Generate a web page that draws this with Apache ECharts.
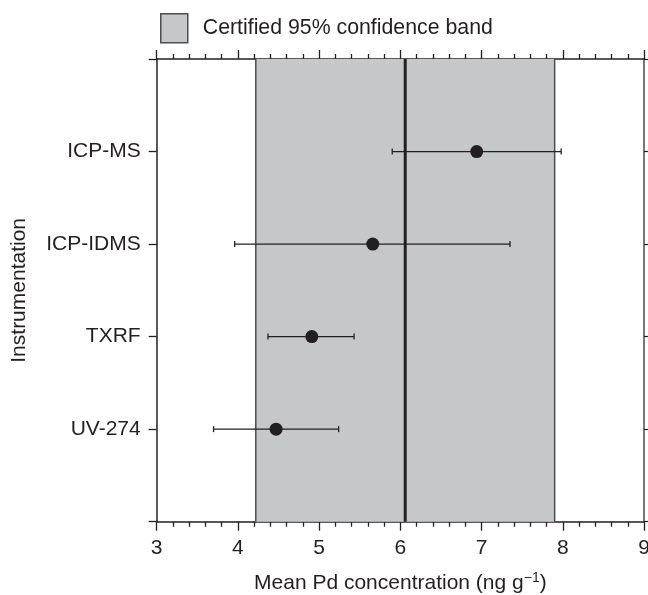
<!DOCTYPE html>
<html>
<head>
<meta charset="utf-8">
<script src="https://cdn.jsdelivr.net/npm/echarts@6/dist/echarts.min.js"></script>
<style>html,body{margin:0;padding:0;background:#fff}#c{width:648px;height:595px}</style>
</head>
<body>
<div id="c"></div>
<script>
// ---- data ----
const methods = ['UV-274', 'TXRF', 'ICP-IDMS', 'ICP-MS'];
const means = [4.47, 4.91, 5.66, 6.94];
const lowerErr = [3.70, 4.37, 3.96, 5.90];
const upperErr = [5.24, 5.43, 7.35, 7.98];
const bandLow = 4.22;
const bandHigh = 7.90;
const certifiedMean = 6.06;
const xTicks = [3, 4, 5, 6, 7, 8, 9];
const bandName = 'Certified 95% confidence band';

const dark = '#231f20';
const gray = '#c6c7c9';
const edge = '#4d4d4f';
const font = 'Liberation Sans';

const chart = echarts.init(document.getElementById('c'), null, {renderer: 'canvas'});

const pointData = methods.map((m, i) => [means[i], i + 1]);
const errData = methods.map((m, i) => [lowerErr[i], upperErr[i], i + 1]);

function xAxisDef(pos, showLabel) {
  return {
    type: 'value', position: pos,
    min: xTicks[0], max: xTicks[xTicks.length - 1], interval: 1,
    axisLine: {show: true, onZero: false, lineStyle: {color: dark, width: 1.5}},
    axisTick: {show: true, inside: false, length: 9, lineStyle: {color: dark, width: 1.3}},
    minorTick: {show: true, splitNumber: 5, length: 5, lineStyle: {color: dark, width: 1.3}},
    splitLine: {show: false},
    axisLabel: {show: showLabel, color: dark, fontSize: 21, fontFamily: font, margin: 16}
  };
}

const bottomAxis = xAxisDef('bottom', true);
bottomAxis.name = '{a|Mean Pd concentration (ng g}{s|\u22121}{a|)}';
bottomAxis.nameLocation = 'middle';
bottomAxis.nameGap = 49;
bottomAxis.nameTextStyle = {
  color: dark, fontFamily: font,
  rich: {
    a: {fontSize: 21, color: dark, fontFamily: font},
    s: {fontSize: 14, color: dark, fontFamily: font, verticalAlign: 'top', padding: [0, 0, 12, 0]}
  }
};

const option = {
  animation: false,
  backgroundColor: '#fff',
  textStyle: {fontFamily: font},
  legend: {
    show: true,
    left: 155,
    top: 8,
    itemWidth: 27,
    itemHeight: 29,
    icon: 'rect',
    selectedMode: false,
    textStyle: {fontFamily: font, fontSize: 21.3, color: dark, padding: [0, 0, 0, 10]},
    data: [{name: bandName, icon: 'rect', itemStyle: {color: gray, borderColor: edge, borderWidth: 1.5}}]
  },
  grid: {left: 156.7, right: 4, top: 59, bottom: 73.3, containLabel: false, outerBoundsMode: 'none'},
  xAxis: [bottomAxis, xAxisDef('top', false)],
  yAxis: [
    {
      type: 'value', position: 'left',
      min: 0, max: methods.length + 1, interval: 1,
      axisLine: {show: true, onZero: false, lineStyle: {color: dark, width: 1.5}},
      axisTick: {show: true, inside: false, length: 8, lineStyle: {color: dark, width: 1.3}},
      splitLine: {show: false},
      axisLabel: {
        show: true, color: dark, fontSize: 21, fontFamily: font, margin: 16,
        formatter: v => (v >= 1 && v <= methods.length) ? methods[v - 1] : ''
      },
      name: 'Instrumentation', nameLocation: 'middle', nameGap: 127,
      nameTextStyle: {color: dark, fontSize: 21, fontFamily: font}
    },
    {
      type: 'value', position: 'right',
      min: 0, max: methods.length + 1, interval: 1,
      axisLine: {show: true, onZero: false, lineStyle: {color: edge, width: 1.5}},
      axisTick: {show: true, inside: false, length: 5, lineStyle: {color: dark, width: 1.2}},
      splitLine: {show: false},
      axisLabel: {show: false}
    }
  ],
  series: [
    {
      name: bandName,
      type: 'custom',
      xAxisIndex: 0, yAxisIndex: 0,
      itemStyle: {color: gray, borderColor: edge, borderWidth: 1.5},
      data: [[bandLow, bandHigh]],
      z: 1,
      renderItem: function (params, api) {
        const p0 = api.coord([api.value(0), methods.length + 1]);
        const p1 = api.coord([api.value(1), 0]);
        return {
          type: 'group',
          children: [
            {type: 'rect', shape: {x: p0[0], y: p0[1], width: p1[0] - p0[0], height: p1[1] - p0[1]},
             style: {fill: gray}},
            {type: 'line', shape: {x1: p0[0], y1: p0[1], x2: p0[0], y2: p1[1]},
             style: {stroke: edge, lineWidth: 1.5}},
            {type: 'line', shape: {x1: p1[0], y1: p0[1], x2: p1[0], y2: p1[1]},
             style: {stroke: edge, lineWidth: 1.5}}
          ]
        };
      }
    },
    {
      name: 'certified',
      type: 'custom',
      data: [[certifiedMean]],
      z: 2,
      renderItem: function (params, api) {
        const a = api.coord([api.value(0), methods.length + 1]);
        const b = api.coord([api.value(0), 0]);
        return {type: 'line', shape: {x1: a[0], y1: a[1], x2: b[0], y2: b[1]},
                style: {stroke: dark, lineWidth: 3}};
      }
    },
    {
      name: 'errors',
      type: 'custom',
      data: errData,
      z: 3,
      renderItem: function (params, api) {
        const lo = api.coord([api.value(0), api.value(2)]);
        const hi = api.coord([api.value(1), api.value(2)]);
        const h = 3;
        const st = {stroke: dark, lineWidth: 1.3};
        return {
          type: 'group',
          children: [
            {type: 'line', shape: {x1: lo[0], y1: lo[1], x2: hi[0], y2: hi[1]}, style: st},
            {type: 'line', shape: {x1: lo[0], y1: lo[1] - h, x2: lo[0], y2: lo[1] + h}, style: st},
            {type: 'line', shape: {x1: hi[0], y1: hi[1] - h, x2: hi[0], y2: hi[1] + h}, style: st}
          ]
        };
      }
    },
    {
      name: 'means',
      type: 'scatter',
      data: pointData,
      symbol: 'circle',
      symbolSize: 13,
      itemStyle: {color: dark, opacity: 1},
      z: 4
    }
  ]
};
chart.setOption(option);
</script>
</body>
</html>
